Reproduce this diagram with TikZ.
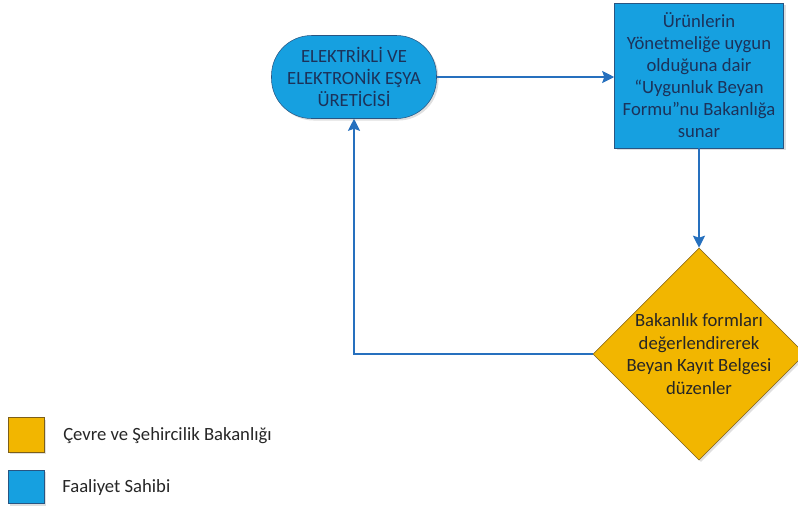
\documentclass[tikz,border=0pt]{standalone}
\usepackage{fontspec}
\setmainfont{Carlito}
\usetikzlibrary{shapes.geometric,arrows.meta,shadows}
\definecolor{mavi}{RGB}{22,160,224}
\definecolor{koyumavi}{RGB}{40,85,130}
\definecolor{sari}{RGB}{242,182,0}
\definecolor{kahve}{RGB}{125,95,25}
\definecolor{okmavi}{RGB}{38,112,190}
\definecolor{yazimavi}{RGB}{28,50,90}
\begin{document}
\begin{tikzpicture}[x=0.75pt, y=-0.75pt,
    every node/.style={font=\fontsize{14}{16.5}\selectfont, align=center, inner sep=0pt},
    golge/.style={drop shadow={shadow xshift=1.5pt, shadow yshift=-1.5pt, opacity=0.25}},
    ok/.style={draw=okmavi, line width=1.5pt, -{Stealth[length=9pt, width=9pt, inset=1.5pt]}}]
    \useasboundingbox (0,0) rectangle (798,508);

    % Akis kutulari
    \node (U) at (354,77) [golge, rectangle, rounded corners=30pt, draw=koyumavi, fill=mavi,
        text=yazimavi, minimum width=123.75pt, minimum height=62.25pt] {ELEKTRİKLİ VE\\ELEKTRONİK EŞYA\\ÜRETİCİSİ};
    \node (F) at (699,75.5) [golge, rectangle, draw=koyumavi, fill=mavi, text=yazimavi,
        minimum width=126.75pt, minimum height=108.75pt] {Ürünlerin\\Yönetmeliğe uygun\\olduğuna dair\\“Uygunluk Beyan\\Formu”nu Bakanlığa\\sunar};
    \node (B) at (699,354) [golge, diamond, draw=kahve, fill=sari, text=black!85, inner sep=-3pt,
        minimum width=159pt, minimum height=159pt, font=\fontsize{14}{17}\selectfont] {Bakanlık formları\\değerlendirerek\\Beyan Kayıt Belgesi\\düzenler};

    % Baglantilar
    \draw[ok] (U.east) -- (U.east -| F.west);
    \draw[ok] (F) -- (B);
    \draw[ok] (B.west) -- (B.west -| U.south) -- (U.south);

    % Lejant
    \node (L1) at (26,435) [golge, rectangle, draw=kahve, fill=sari, minimum width=27pt, minimum height=26pt] {};
    \node (L2) at (26,487) [golge, rectangle, draw=koyumavi, fill=mavi, minimum width=27pt, minimum height=25pt] {};
    \node (T1) at (63,436) [anchor=west, text=black!85] {Çevre ve Şehircilik Bakanlığı};
    \node (T2) at (62,488) [anchor=west, text=black!85] {Faaliyet Sahibi};
\end{tikzpicture}
\end{document}
